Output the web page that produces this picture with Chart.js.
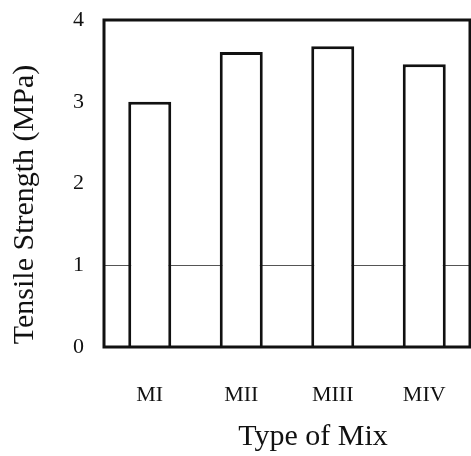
<!DOCTYPE html>
<html lang="en">
<head>
  <meta charset="UTF-8">
  <title>Tensile Strength by Mix</title>
  <script src="https://cdn.jsdelivr.net/npm/chart.js"></script>
  <style>
    html, body { margin: 0; padding: 0; background: #fff; }
    .wrap { width: 471px; height: 456px; position: relative; }
  </style>
</head>
<body>
  <div class="wrap">
    <canvas id="strengthChart"></canvas>
  </div>

  <script>
  const mixes = ["MI", "MII", "MIII", "MIV"];
  const strength = [3.0, 3.61, 3.68, 3.46];
  const yTicks = [0, 1, 2, 3, 4];
  const refLevel = 1;
  const xTitle = "Type of Mix";
  const yTitle = "Tensile Strength (MPa)";

  const FONT = "'Liberation Serif', 'Times New Roman', serif";
  const INK = '#111';

  // box around the plot + the two axis titles (placed a bit off-centre like the scan)
  const framePlugin = {
    id: 'frame',
    afterDatasetsDraw(chart) {
      const { ctx, chartArea: a } = chart;
      ctx.save();
      ctx.strokeStyle = INK;
      ctx.lineWidth = 3;
      ctx.strokeRect(a.left, a.top, a.right - a.left, a.bottom - a.top);
      ctx.restore();
    },
    afterDraw(chart) {
      const { ctx, chartArea: a } = chart;
      ctx.save();
      ctx.fillStyle = INK;
      ctx.font = "30px " + FONT;
      ctx.textAlign = 'center';
      ctx.textBaseline = 'middle';
      ctx.fillText(xTitle, (a.left + a.right) / 2 + 26, a.bottom + 90);
      ctx.translate(25, (a.top + a.bottom) / 2 + 21);
      ctx.rotate(-Math.PI / 2);
      ctx.fillText(yTitle, 0, 0);
      ctx.restore();
    }
  };

  new Chart(document.getElementById('strengthChart'), {
    type: 'bar',
    data: {
      labels: mixes,
      datasets: [{
        data: strength,
        backgroundColor: '#fff',
        borderColor: INK,
        borderWidth: 3,
        borderSkipped: 'bottom',
        barPercentage: 0.47,
        categoryPercentage: 1
      }]
    },
    options: {
      responsive: true,
      maintainAspectRatio: false,
      animation: false,
      layout: { padding: { top: 20, right: 1, left: 0, bottom: 0 } },
      plugins: { legend: { display: false }, tooltip: { enabled: false } },
      scales: {
        x: {
          grid: { display: false },
          border: { display: false },
          ticks: { color: INK, font: { family: FONT, size: 22 }, padding: 27 },
          afterFit(scale) {
            scale.height = 109;
            scale.paddingLeft = 0;
            scale.paddingRight = 0;
          }
        },
        y: {
          min: 0,
          max: 4,
          afterBuildTicks(scale) { scale.ticks = yTicks.map(v => ({ value: v })); },
          border: { display: false },
          grid: {
            drawTicks: false,
            lineWidth: 1,
            color: c => (c.tick && c.tick.value === refLevel) ? '#555' : 'rgba(0,0,0,0)'
          },
          ticks: { color: INK, font: { family: FONT, size: 22 }, padding: 20 },
          afterFit(scale) {
            scale.width = 104;
            scale.paddingTop = 0;
            scale.paddingBottom = 0;
          }
        }
      }
    },
    plugins: [framePlugin]
  });
  </script>
</body>
</html>
